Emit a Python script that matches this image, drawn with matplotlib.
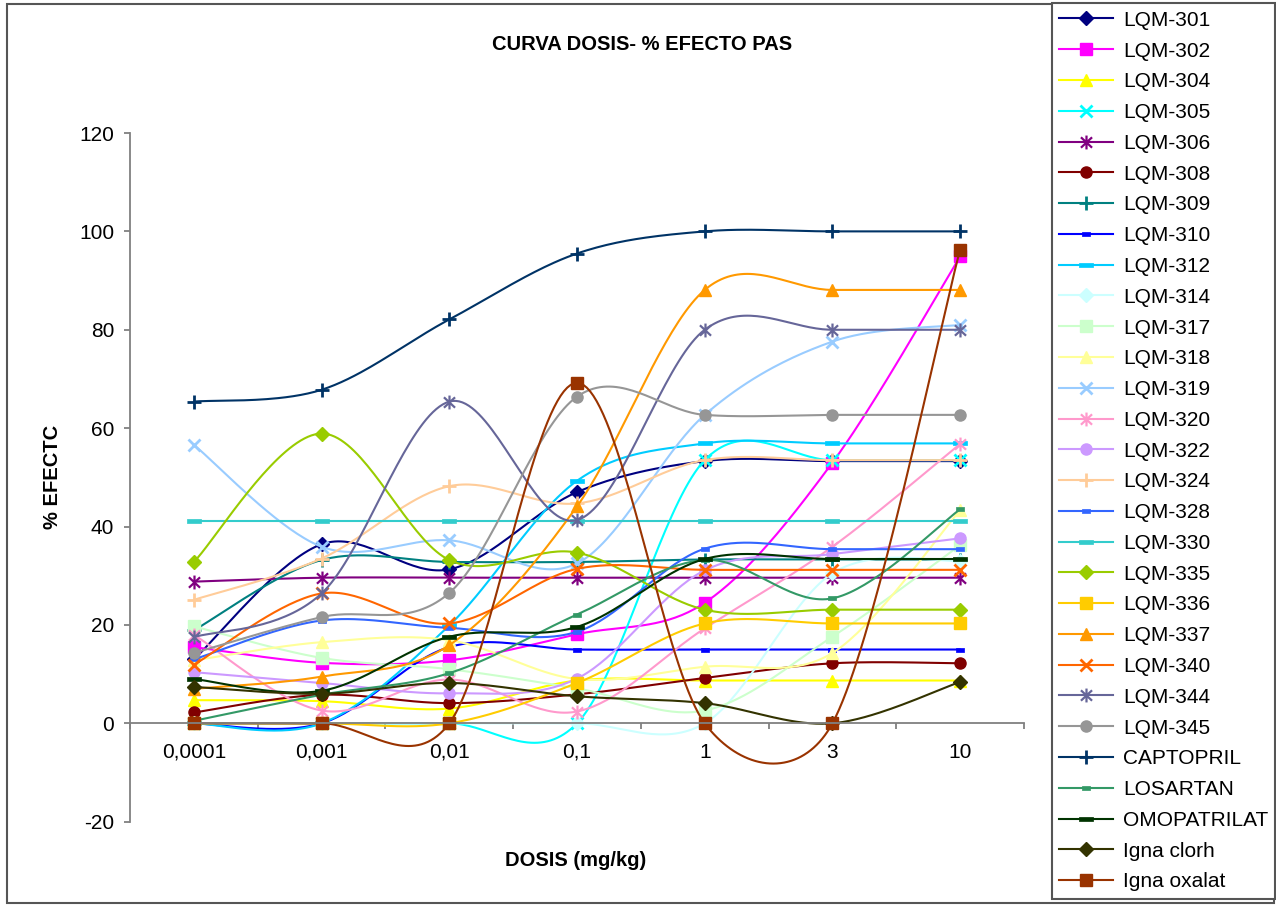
import numpy as np
import matplotlib
matplotlib.use("Agg")
import matplotlib.pyplot as plt
from matplotlib.patches import Rectangle
from matplotlib.path import Path

plt.rcParams['font.family'] = ['Liberation Sans', 'DejaVu Sans']
plt.rcParams['axes.unicode_minus'] = False

doses = ["0,0001", "0,001", "0,01", "0,1", "1", "3", "10"]

lqm301 = [13.0, 36.4, 31.3, 47.0, 53.3, 53.3, 53.3]
lqm302 = [15.5, 12.3, 12.8, 18.1, 24.5, 53.0, 94.9]
lqm304 = [4.7, 4.5, 3.0, 8.7, 8.7, 8.7, 8.7]
lqm305 = [0.0, 0.0, 0.0, 0.0, 53.5, 53.5, 53.5]
lqm306 = [28.8, 29.6, 29.6, 29.6, 29.6, 29.6, 29.6]
lqm308 = [2.2, 5.8, 4.1, 5.9, 9.2, 12.2, 12.2]
lqm309 = [18.9, 33.2, 32.8, 32.8, 33.3, 33.3, 33.3]
lqm310 = [0.0, 0.0, 15.5, 15.0, 15.0, 15.0, 15.0]
lqm312 = [0.0, 0.0, 19.9, 49.3, 56.9, 56.9, 56.9]
lqm314 = [0.0, 0.0, 0.0, 0.0, 0.0, 30.5, 33.0]
lqm317 = [19.7, 13.3, 11.0, 7.1, 2.6, 17.6, 36.2]
lqm318 = [12.8, 16.5, 16.9, 9.0, 11.5, 14.3, 43.3]
lqm319 = [56.6, 35.9, 37.2, 32.5, 62.7, 77.6, 81.0]
lqm320 = [18.0, 2.6, 8.9, 2.4, 19.3, 35.9, 56.8]
lqm322 = [10.4, 8.2, 6.1, 9.1, 31.1, 34.4, 37.6]
lqm324 = [25.1, 33.5, 48.2, 44.7, 53.5, 53.5, 53.5]
lqm328 = [13.0, 20.9, 19.4, 18.6, 35.5, 35.4, 35.4]
lqm330 = [41.1, 41.1, 41.1, 41.1, 41.1, 41.1, 41.1]
lqm335 = [32.8, 58.9, 33.2, 34.7, 23.1, 23.1, 23.1]
lqm336 = [0.0, 0.0, 0.0, 8.2, 20.3, 20.3, 20.3]
lqm337 = [7.0, 9.5, 15.9, 44.1, 88.1, 88.1, 88.1]
lqm340 = [11.9, 26.4, 20.3, 31.4, 31.2, 31.2, 31.2]
lqm344 = [17.5, 26.4, 65.4, 41.3, 80.0, 80.0, 80.0]
lqm345 = [14.3, 21.6, 26.5, 66.4, 62.7, 62.7, 62.7]
captopril = [65.4, 67.8, 82.1, 95.5, 100.0, 100.0, 100.0]
losartan = [0.5, 5.8, 10.2, 22.1, 33.2, 25.4, 43.5]
omopatrilat = [9.0, 6.6, 17.6, 19.6, 33.4, 33.4, 33.4]
igna_clorh = [7.4, 6.0, 8.2, 5.5, 4.1, 0.0, 8.4]
igna_oxalat = [0.0, 0.0, 0.0, 69.2, 0.0, 0.0, 96.3]

series_names = ["LQM-301", "LQM-302", "LQM-304", "LQM-305", "LQM-306", "LQM-308",
                "LQM-309", "LQM-310", "LQM-312", "LQM-314", "LQM-317", "LQM-318",
                "LQM-319", "LQM-320", "LQM-322", "LQM-324", "LQM-328", "LQM-330",
                "LQM-335", "LQM-336", "LQM-337", "LQM-340", "LQM-344", "LQM-345",
                "CAPTOPRIL", "LOSARTAN", "OMOPATRILAT", "Igna clorh", "Igna oxalat"]
series_values = [lqm301, lqm302, lqm304, lqm305, lqm306, lqm308, lqm309, lqm310,
                 lqm312, lqm314, lqm317, lqm318, lqm319, lqm320, lqm322, lqm324,
                 lqm328, lqm330, lqm335, lqm336, lqm337, lqm340, lqm344, lqm345,
                 captopril, losartan, omopatrilat, igna_clorh, igna_oxalat]
series_colors = ["#000080", "#FF00FF", "#FFFF00", "#00FFFF", "#800080", "#800000",
                 "#008080", "#0000FF", "#00CCFF", "#CCFFFF", "#CCFFCC", "#FFFF99",
                 "#99CCFF", "#FF99CC", "#CC99FF", "#FFCC99", "#3366FF", "#33CCCC",
                 "#99CC00", "#FFCC00", "#FF9900", "#FF6600", "#666699", "#969696",
                 "#003366", "#339966", "#003300", "#333300", "#993300"]

short_dash = [(-1, -0.4), (1, -0.4), (1, 0.4), (-1, 0.4), (-1, -0.4)]
long_dash = [(-1, -0.3), (1, -0.3), (1, 0.3), (-1, 0.3), (-1, -0.3)]
star = Path([(0, -1), (0, 1), (-0.8, -0.75), (0.8, 0.75), (-0.8, 0.75), (0.8, -0.75)],
            [Path.MOVETO, Path.LINETO, Path.MOVETO, Path.LINETO, Path.MOVETO, Path.LINETO])
# marker cycle of the spreadsheet: diamond, square, triangle, x, star, circle, plus, short dash, long dash
cycle = [("D", 7, 1.0), ("s", 8, 1.0), ("^", 8.5, 1.0), ("x", 9, 2.0), (star, 10, 1.6),
         ("o", 8, 1.0), ("+", 10, 2.0), (short_dash, 6, 0.5), (long_dash, 10, 0.5)]

W, H = 1276, 905
ax_l, ax_r, ax_t, ax_b = 130, 1024, 133, 821.7
sx = (ax_r - ax_l) / 7.0
sy = (ax_b - ax_t) / 140.0


def excel_smooth(ys, n=40):
    xs = np.arange(len(ys), dtype=float)
    pts = np.column_stack([xs * sx, np.asarray(ys, float) * sy])
    N = len(pts)
    out = []
    t = np.linspace(0, 1, n)[:, None]
    for i in range(N - 1):
        p0 = pts[i - 1] if i > 0 else pts[i]
        p1 = pts[i]
        p2 = pts[i + 1]
        p3 = pts[i + 2] if i + 2 < N else pts[i + 1]
        d12 = np.linalg.norm(p2 - p1)
        d02 = np.linalg.norm(p2 - p0)
        d13 = np.linalg.norm(p3 - p1)
        f0 = 1 / 6.0
        f1 = 1 / 6.0
        if d02 > 0 and d02 / 6.0 > d12 / 2.0:
            f0 = d12 / 2.0 / d02
        if d13 > 0 and d13 / 6.0 > d12 / 2.0:
            f1 = d12 / 2.0 / d13
        c1 = p1 + (p2 - p0) * f0
        c2 = p2 - (p3 - p1) * f1
        b = ((1 - t) ** 3) * p1 + 3 * ((1 - t) ** 2) * t * c1 + 3 * (1 - t) * t ** 2 * c2 + t ** 3 * p2
        if i > 0:
            b = b[1:]
        out.append(b)
    out = np.vstack(out)
    return out[:, 0] / sx, out[:, 1] / sy


fig = plt.figure(figsize=(W / 100, H / 100), dpi=100)
ax = fig.add_axes([ax_l / W, 1 - ax_b / H, (ax_r - ax_l) / W, (ax_b - ax_t) / H])

handles = []
xcat = np.arange(len(doses))
for k, (name, vals, col) in enumerate(zip(series_names, series_values, series_colors)):
    mk, ms, mew = cycle[k % len(cycle)]
    cx, cy = excel_smooth(vals)
    ax.plot(cx, cy, color=col, lw=1.5, zorder=2 + k * 0.01, solid_capstyle='round')
    ax.plot(xcat, vals, linestyle='none', marker=mk, markersize=ms, color=col,
            markeredgecolor=col, markeredgewidth=mew, zorder=2 + k * 0.01 + 0.005)
    h, = ax.plot([], [], color=col, lw=1.5, marker=mk, markersize=ms,
                 markeredgecolor=col, markeredgewidth=mew, label=name)
    handles.append(h)

ax.set_xlim(-0.5, 6.5)
ax.set_ylim(-20, 120)
for s in ['top', 'right']:
    ax.spines[s].set_visible(False)
ax.spines['bottom'].set_position(('data', 0))
ax.spines['left'].set_color('#808080')
ax.spines['bottom'].set_color('#808080')
ax.spines['left'].set_linewidth(1.3)
ax.spines['bottom'].set_linewidth(1.3)

ax.set_yticks(np.arange(-20, 121, 20))
ax.tick_params(axis='y', direction='out', length=4.5, width=1.3, color='#808080',
               labelsize=15, pad=7)
ax.set_xticks(np.arange(-0.5, 7.0, 1.0))
ax.set_xticklabels([])
ax.set_xticks(xcat, minor=True)
ax.set_xticklabels(doses, minor=True)
ax.tick_params(axis='x', which='major', direction='out', length=4.5, width=1.3, color='#808080')
ax.tick_params(axis='x', which='minor', length=0, labelsize=15, pad=14)

fig.text(642 / W, 1 - 44 / H, "CURVA DOSIS- % EFECTO PAS", ha='center', va='center',
         fontsize=14.5, fontweight='bold')
fig.text(576 / W, 1 - 860 / H, "DOSIS (mg/kg)", ha='center', va='center',
         fontsize=14.5, fontweight='bold')
fig.text(52 / W, 1 - 477 / H, "% EFECTC", ha='center', va='center', rotation=90,
         fontsize=14.5, fontweight='bold')

leg = fig.legend(handles=handles, loc='upper left',
                 bbox_to_anchor=(1052 / W, 1 - 3.5 / H), bbox_transform=fig.transFigure,
                 fontsize=15, numpoints=1, handlelength=2.6, handletextpad=0.45,
                 labelspacing=0.565, borderpad=0.35, borderaxespad=0, fancybox=False,
                 frameon=True, edgecolor='#555555', framealpha=1)
leg.get_frame().set_linewidth(1.5)

fig.patches.append(Rectangle((7 / W, 1 - 903 / H), (1274 - 7) / W, (903 - 4) / H,
                             transform=fig.transFigure, fill=False, edgecolor='#555555',
                             linewidth=1.5, zorder=0))

fig.savefig("out.png", dpi=100)
